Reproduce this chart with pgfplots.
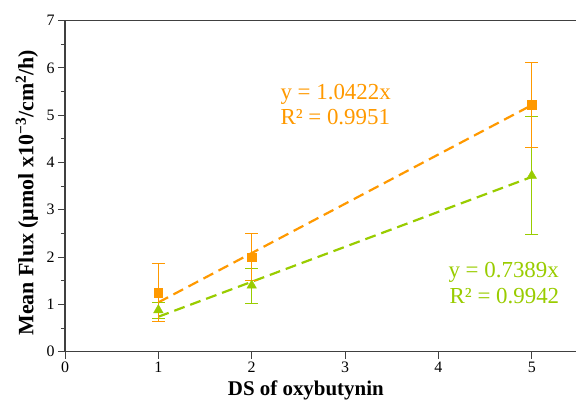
\documentclass[border=0pt]{standalone}
\usepackage{pgfplots}
\pgfplotsset{compat=1.18}
\usepackage{fontspec}
\setmainfont{Liberation Serif}
\usetikzlibrary{calc}

\definecolor{fluxorange}{HTML}{FF9900}
\definecolor{fluxgreen}{HTML}{99CC00}
\definecolor{axisgray}{HTML}{404040}

\begin{document}
\begin{tikzpicture}
\begin{axis}[
  scale only axis,
  width=518.1bp, height=331.2bp,
  xmin=0, xmax=5.55, ymin=0, ymax=7,
  xtick={0,1,2,3,4,5}, ytick={0,1,...,7},
  xticklabels={0,1,2,3,4,5},
  yticklabels={0,1,2,3,4,5,6,7},
  minor y tick num=1,
  xtick pos=bottom, ytick pos=left,
  tick align=outside,
  major tick length=7bp, minor tick length=4bp,
  axis line style={axisgray, line width=1.3bp},
  tick style={axisgray, line width=1bp},
  ticklabel style={font=\rmfamily\fontsize{16}{16}\selectfont},
  xlabel={DS of oxybutynin},
  ylabel={Mean Flux (µmol x10\textsuperscript{−3}/cm\textsuperscript{2}/h)},
  xlabel style={font=\bfseries\fontsize{21}{21}\selectfont, at={(rel axis cs:0.4649,-0.1322)}, anchor=base},
  ylabel style={font=\bfseries\fontsize{22}{22}\selectfont, at={(rel axis cs:-0.0734,0.48)}, anchor=center},
  clip=false,
]
  % linear trend lines (through origin)
  \addplot[fluxorange, line width=2.2bp, dash pattern=on 11bp off 6bp] coordinates {(1,1.0422) (5,5.211)};
  \addplot[fluxgreen, line width=2.2bp, dash pattern=on 11bp off 6bp] coordinates {(1,0.7389) (5,3.6945)};

  % green series
  \addplot[only marks, mark=triangle*, mark size=5.5bp, color=fluxgreen,
    error bars/.cd, y dir=both, y explicit,
    error bar style={line width=0.9bp, fluxgreen},
    error mark options={rotate=90, mark size=6.5bp, fluxgreen, line width=0.9bp}]
    coordinates {(1,0.88) +- (0,0.17) (2,1.40) +- (0,0.37) (5,3.72) +- (0,1.25)};

  % orange series
  \addplot[only marks, mark=square*, mark size=4.2bp, color=fluxorange,
    error bars/.cd, y dir=both, y explicit,
    error bar style={line width=0.9bp, fluxorange},
    error mark options={rotate=90, mark size=6.5bp, fluxorange, line width=0.9bp}]
    coordinates {(1,1.25) +- (0,0.62) (2,2.0) +- (0,0.5) (5,5.22) +- (0,0.9)};

  \node[anchor=base west, fluxorange, font=\fontsize{23}{23}\selectfont] at (axis cs:2.271,5.335) {y = 1.0422x};
  \node[anchor=base west, fluxorange, font=\fontsize{23}{23}\selectfont] at (axis cs:2.271,4.807) {R² = 0.9951};
  \node[anchor=base west, fluxgreen, font=\fontsize{23}{23}\selectfont] at (axis cs:4.071,1.573) {y = 0.7389x};
  \node[anchor=base west, fluxgreen, font=\fontsize{23}{23}\selectfont] at (axis cs:4.083,1.023) {R² = 0.9942};

  \coordinate (sw) at (rel axis cs:0,0);
\end{axis}
\pgfresetboundingbox
\path ($(sw)+(-65bp,-51.3bp)$) rectangle ($(sw)+(511bp,351.7bp)$);
\end{tikzpicture}
\end{document}
